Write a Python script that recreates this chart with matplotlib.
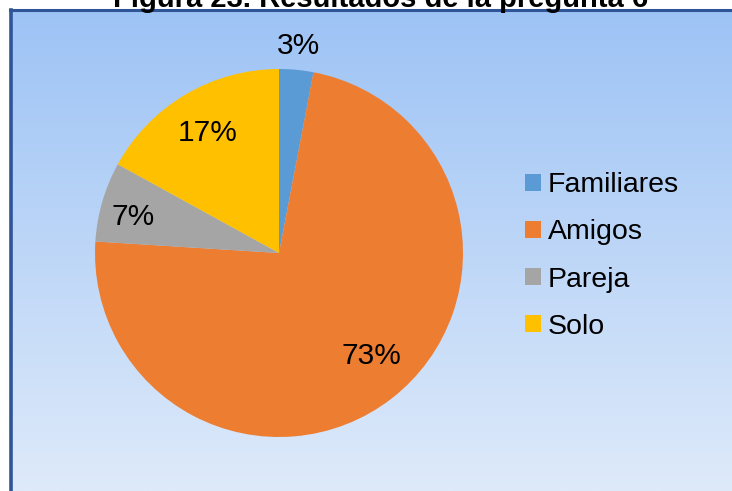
import numpy as np
import matplotlib.pyplot as plt
from matplotlib.lines import Line2D
from matplotlib.patches import Patch

plt.rcParams["font.family"] = ["Liberation Sans", "DejaVu Sans"]

categories = ["Familiares", "Amigos", "Pareja", "Solo"]
percentages = [3, 73, 7, 17]
colors = ["#5B9BD5", "#ED7D31", "#A5A5A5", "#FFC000"]
title = "Figura 23. Resultados de la pregunta 6"

# label placement: radial distance (fraction of radius) and angular nudge in degrees
label_dist = [1.13, 0.75, 0.815, 0.76]
label_nudge = [0, 4, 2.3, 0]

W, H = 732, 491
fig = plt.figure(figsize=(W / 100, H / 100), dpi=100)
fig.patch.set_facecolor("white")

# gradient background of the chart area
bg = fig.add_axes([12 / W, 0, (W - 12) / W, (H - 11) / H])
top = np.array([157, 195, 245]) / 255
bottom = np.array([222, 234, 250]) / 255
t = np.linspace(0, 1, 256)[:, None]
grad = (top * (1 - t) + bottom * t)[:, None, :]
bg.imshow(grad, aspect="auto", extent=[0, 1, 0, 1])
bg.set_axis_off()

# frame lines (top and left)
fig.add_artist(Line2D([9.5 / W, 1], [1 - 10 / H, 1 - 10 / H], color="#2F5597", lw=2.2))
fig.add_artist(Line2D([10.5 / W, 10.5 / W], [0, 1 - 10 / H], color="#2F5597", lw=2.6))

# title, partly cut by the top edge
fig.text(381 / W, 1 - 7 / H, title, ha="center", va="baseline",
         fontsize=21, fontweight="bold", color="black")

# pie
cx, cy, r = 279, 253, 184
ax = fig.add_axes([(cx - r) / W, (H - cy - r) / H, 2 * r / W, 2 * r / H])
wedges, _ = ax.pie(percentages, colors=colors, startangle=90, counterclock=False,
                   radius=1, wedgeprops=dict(linewidth=0))
ax.set_xlim(-1, 1)
ax.set_ylim(-1, 1)
ax.set_aspect("equal")
ax.set_axis_off()

for w, pct, d, nudge in zip(wedges, percentages, label_dist, label_nudge):
    mid = np.deg2rad((w.theta1 + w.theta2) / 2 + nudge)
    ax.text(d * np.cos(mid), d * np.sin(mid), f"{pct}%", ha="center", va="center",
            fontsize=21.5, color="black", clip_on=False)

handles = [Patch(facecolor=c, edgecolor="none") for c in colors]
fig.legend(handles, categories, loc="center left", bbox_to_anchor=(525 / W, 1 - 256 / H),
           frameon=False, fontsize=20.5, handlelength=0.56, handleheight=0.55,
           handletextpad=0.25, labelspacing=0.74, borderpad=0, borderaxespad=0)

fig.savefig("out.png", dpi=100)
